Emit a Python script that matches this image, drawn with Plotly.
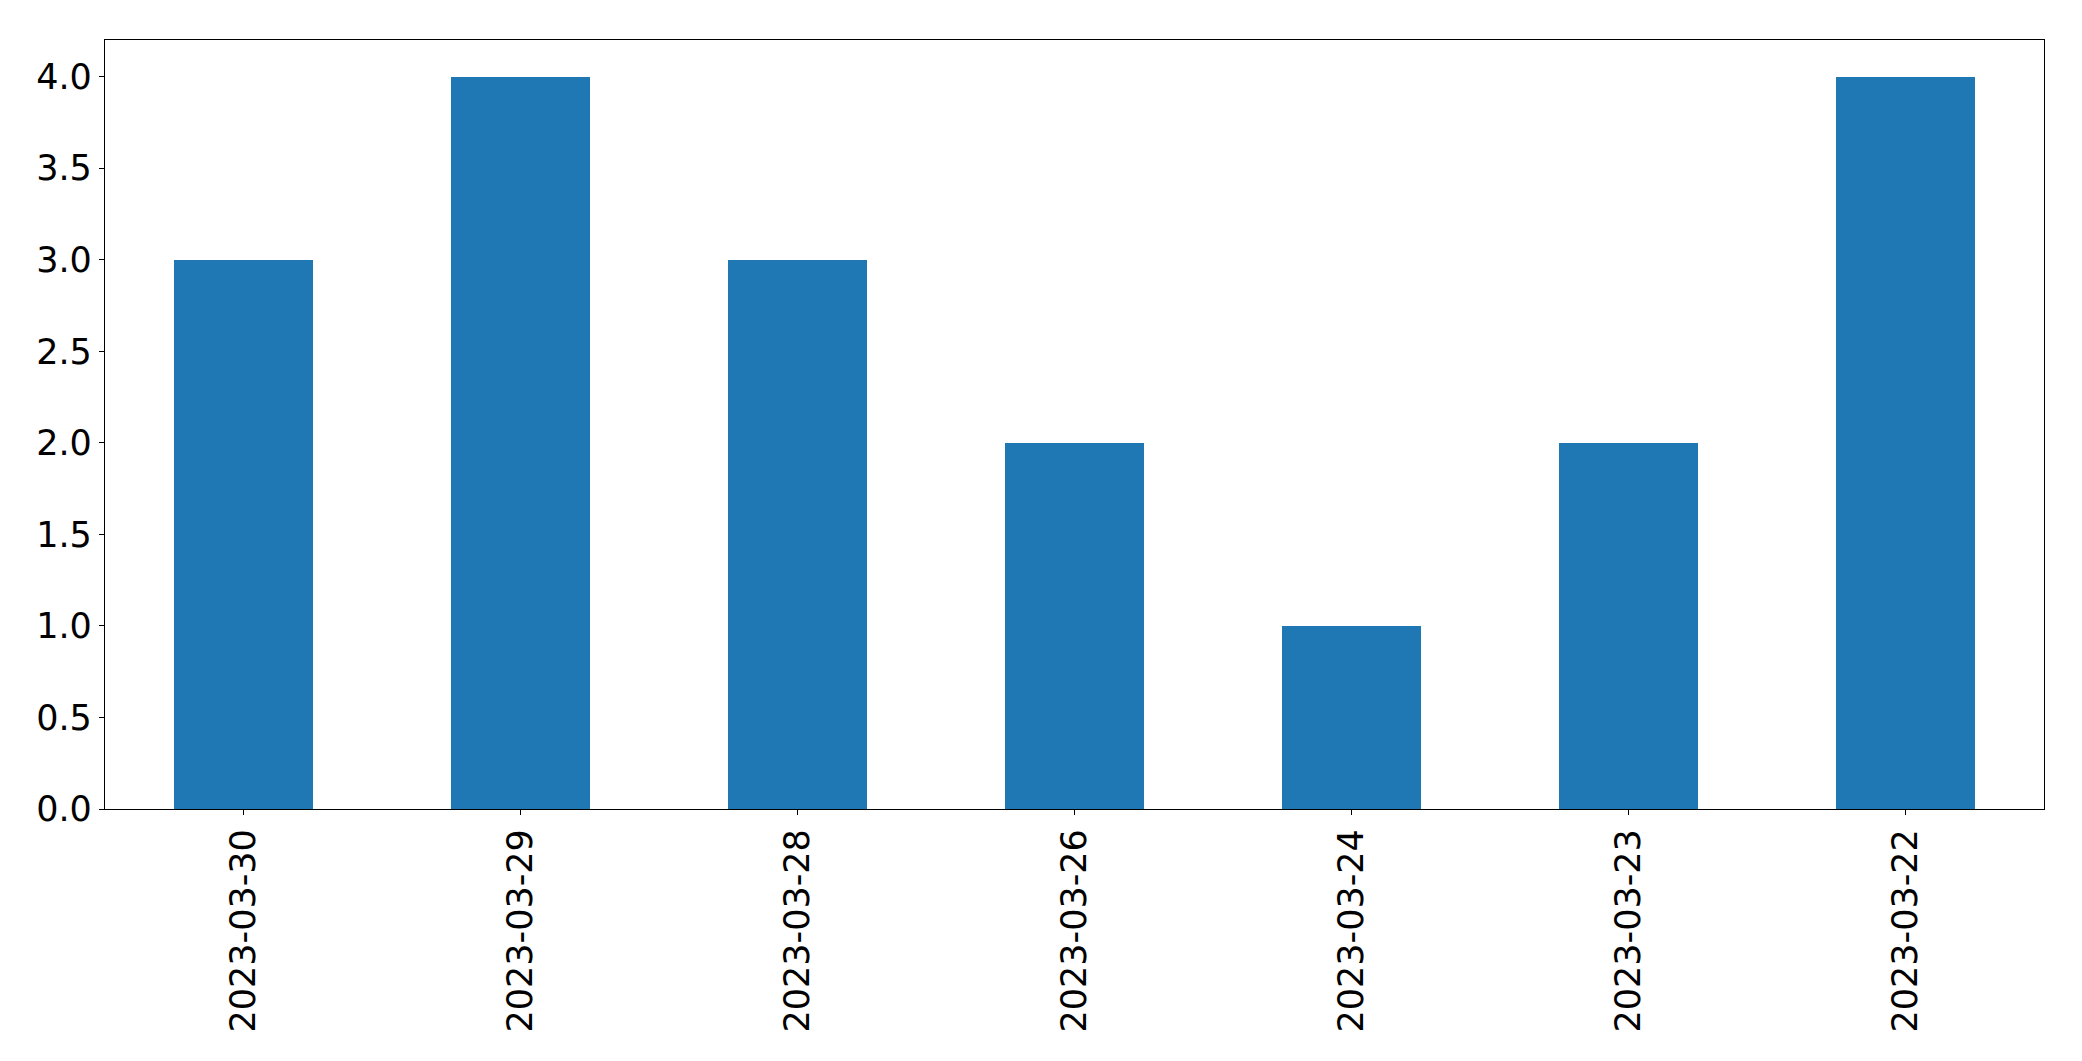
import plotly.graph_objects as go

dates = ["2023-03-30", "2023-03-29", "2023-03-28", "2023-03-26", "2023-03-24", "2023-03-23", "2023-03-22"]
counts = [3, 4, 3, 2, 1, 2, 4]

fig = go.Figure(go.Bar(x=dates, y=counts, width=0.5, marker=dict(color="#1f77b4", line=dict(width=0))))

fig.update_layout(
    width=2066, height=1045,
    margin=dict(l=97, r=30, t=32, b=244, pad=0),
    paper_bgcolor="white", plot_bgcolor="white",
    font=dict(family="DejaVu Sans", size=35, color="black"),
    showlegend=False,
    bargap=0,
)
fig.update_xaxes(
    type="category", range=[-0.5, 6.5], tickangle=-90,
    showline=True, linecolor="black", linewidth=1.3, mirror=True,
    ticks="outside", ticklen=5, tickwidth=1.3, tickcolor="black",
    showgrid=False, zeroline=False,
)
fig.update_yaxes(
    range=[0, 4.2], dtick=0.5, tick0=0, tickformat=".1f",
    showline=True, linecolor="black", linewidth=1.3, mirror=True,
    ticks="outside", ticklen=5, tickwidth=1.3, tickcolor="black",
    showgrid=False, zeroline=False,
)

fig.write_html("out.html")
